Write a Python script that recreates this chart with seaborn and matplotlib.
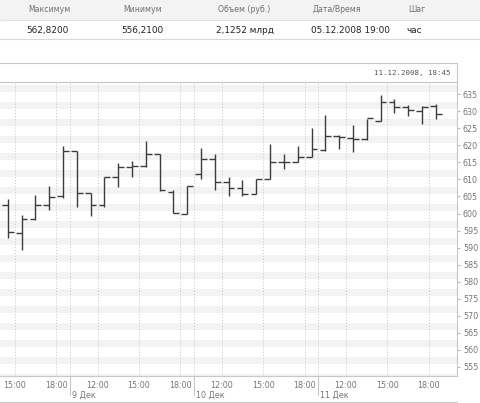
import matplotlib
matplotlib.use("Agg")
import matplotlib.pyplot as plt
import matplotlib.transforms as mtransforms
from matplotlib.lines import Line2D
from matplotlib.patches import Rectangle
import pandas as pd
import seaborn as sns

# header table
header_labels = ["Максимум", "Минимум", "Объем (руб.)", "Дата/Время", "Шаг"]
header_values = ["562,8200", "556,2100", "2,1252 млрд", "05.12.2008 19:00", "час"]
stamp = "11.12.2008, 18:45"

# hourly OHLC bars (trading day 10:00-19:00)
bar_day = [8, 8, 8, 8, 8,
           9, 9, 9, 9, 9, 9, 9, 9, 9,
           10, 10, 10, 10, 10, 10, 10, 10, 10,
           11, 11, 11, 11, 11, 11, 11, 11, 11]
bar_hour = [14, 15, 16, 17, 18,
            10, 11, 12, 13, 14, 15, 16, 17, 18,
            10, 11, 12, 13, 14, 15, 16, 17, 18,
            10, 11, 12, 13, 14, 15, 16, 17, 18]
open_ = [602.5, 594.2, 598.3, 602.5, 605.0,
         618.3, 606.1, 602.5, 610.6, 613.6, 613.9, 617.5, 606.4, 600.0,
         611.6, 616.1, 609.4, 607.4, 605.7, 610.1, 615.0, 615.0, 616.7,
         618.6, 622.8, 622.2, 621.8, 627.1, 632.6, 631.3, 630.1, 631.6]
high = [604.2, 599.6, 605.4, 608.0, 619.9,
        618.4, 606.1, 610.8, 614.9, 615.5, 621.4, 617.5, 606.9, 608.1,
        619.1, 617.5, 610.6, 609.8, 610.1, 620.4, 617.4, 619.9, 625.0,
        628.9, 623.0, 625.9, 627.7, 634.9, 633.7, 631.8, 631.6, 632.2]
low = [592.8, 589.3, 598.0, 601.0, 604.5,
       601.8, 599.3, 602.0, 607.7, 610.6, 613.6, 606.7, 600.2, 599.8,
       610.0, 606.9, 605.2, 605.1, 605.7, 610.1, 613.0, 615.0, 616.7,
       618.4, 619.0, 618.1, 621.5, 627.1, 629.6, 628.6, 626.4, 627.7]
close = [594.5, 598.3, 602.5, 604.9, 618.4,
         606.1, 602.5, 610.6, 613.6, 613.9, 617.5, 606.9, 600.2, 608.1,
         616.1, 609.2, 607.4, 605.7, 610.1, 615.0, 615.0, 616.7, 618.8,
         622.8, 622.5, 621.8, 628.1, 632.7, 631.3, 630.3, 631.3, 629.1]

days = [8, 9, 10, 11]
day_labels = ["", "9 Дек", "10 Дек", "11 Дек"]
tick_hours = [12, 15, 18]
y_ticks = [555, 560, 565, 570, 575, 580, 585, 590, 595, 600, 605, 610,
           615, 620, 625, 630, 635]

DAY_START, DAY_LEN = 10, 9
BAR_COLOR = "#3c3c3c"
GRID_COLOR = "#c4c4c4"
TEXT_COLOR = "#777777"


def slot(day, hour):
    # gap-free session axis: Dec 9 10:00 -> 0
    return (day - 9) * DAY_LEN + (hour - DAY_START)


df = pd.DataFrame({"day": bar_day, "hour": bar_hour, "open": open_,
                   "high": high, "low": low, "close": close})
df["x"] = [slot(d, h) + 0.5 for d, h in zip(df["day"], df["hour"])]

sns.set_style("white")
plt.rcParams["font.family"] = ["DejaVu Sans"]

W, H = 480, 403
fig = plt.figure(figsize=(W / 100, H / 100), dpi=100)


def fx(px):
    return px / W


def fy(py):
    return 1 - py / H


# header table
fig.patches.append(Rectangle((0, fy(20)), 1, fy(0) - fy(20), transform=fig.transFigure,
                             facecolor="#f3f3f3", edgecolor="none", zorder=0))
for py, c in [(20, "#e2e2e2"), (39, "#d8d8d8")]:
    fig.lines.append(Line2D([0, 1], [fy(py), fy(py)], transform=fig.transFigure,
                            color=c, lw=0.8))
for xp, lab, val in zip([28, 123, 218, 313, 408], header_labels, header_values):
    fig.text(fx(xp), fy(10), lab, fontsize=5.6, color="#707070", va="center")
    fig.text(fx(xp - 2), fy(30.5), val, fontsize=6.4, color="#222222", va="center")

# chart panel frame
fig.lines.append(Line2D([0, fx(456.7)], [fy(63), fy(63)], transform=fig.transFigure,
                        color="#c8c8c8", lw=0.8))
fig.lines.append(Line2D([fx(456.7), fx(456.7)], [fy(63), fy(82)], transform=fig.transFigure,
                        color="#c8c8c8", lw=0.8))
fig.lines.append(Line2D([0, fx(457)], [fy(401.5), fy(401.5)], transform=fig.transFigure,
                        color="#c8c8c8", lw=0.8))
fig.text(fx(451), fy(73.5), stamp, fontsize=5.4, color="#555555", ha="right", va="center",
         family="DejaVu Sans Mono")

ax = fig.add_axes([0, fy(376), fx(456.7), fy(81.7) - fy(376)])

# horizontal stripes
for v in range(550, 640, 5):
    ax.axhspan(v + 0.8, v + 2.8, color="#f3f3f3", lw=0, zorder=0)

# vertical grid: hour ticks and day boundaries
tick_pos, tick_lab = [], []
for d in days:
    for h in tick_hours:
        tick_pos.append(slot(d, h))
        tick_lab.append(f"{h}:00")
bounds = [slot(d, DAY_START) for d in days[1:]]
for x in tick_pos + bounds:
    ax.axvline(x, color=GRID_COLOR, lw=0.7, ls=(0, (1, 2)), zorder=1)

trans = mtransforms.blended_transform_factory(ax.transData, ax.transAxes)
for x, lab in zip(bounds, day_labels[1:]):
    ax.plot([x, x], [0, -0.065], transform=trans, color="#c8c8c8", lw=0.8, clip_on=False)
    ax.text(x + 0.15, -0.066, lab, transform=trans, fontsize=5.8, color=TEXT_COLOR,
            ha="left", va="center")

# OHLC bars
tw = 0.42
ax.vlines(df["x"], df["low"], df["high"], color=BAR_COLOR, lw=1.0, zorder=3)
ax.hlines(df["open"], df["x"] - tw, df["x"], color=BAR_COLOR, lw=1.0, zorder=3)
ax.hlines(df["close"], df["x"], df["x"] + tw, color=BAR_COLOR, lw=1.0, zorder=3)

ax.set_xticks(tick_pos, tick_lab)
ax.set_yticks(y_ticks)
ax.set_xlim(-5.07, 28.02)
ax.set_ylim(552.3, 638.7)
ax.yaxis.tick_right()
ax.tick_params(axis="x", length=0, pad=3.5, labelsize=5.8, labelcolor=TEXT_COLOR)
ax.tick_params(axis="y", length=2.5, width=0.6, color="#aaaaaa", pad=2,
               labelsize=5.8, labelcolor=TEXT_COLOR)
ax.set_xlabel("")
ax.set_ylabel("")
for side in ["top", "right", "bottom"]:
    ax.spines[side].set_color("#c8c8c8")
    ax.spines[side].set_linewidth(0.8)
ax.spines["left"].set_visible(False)

fig.savefig("out.png", dpi=100)
